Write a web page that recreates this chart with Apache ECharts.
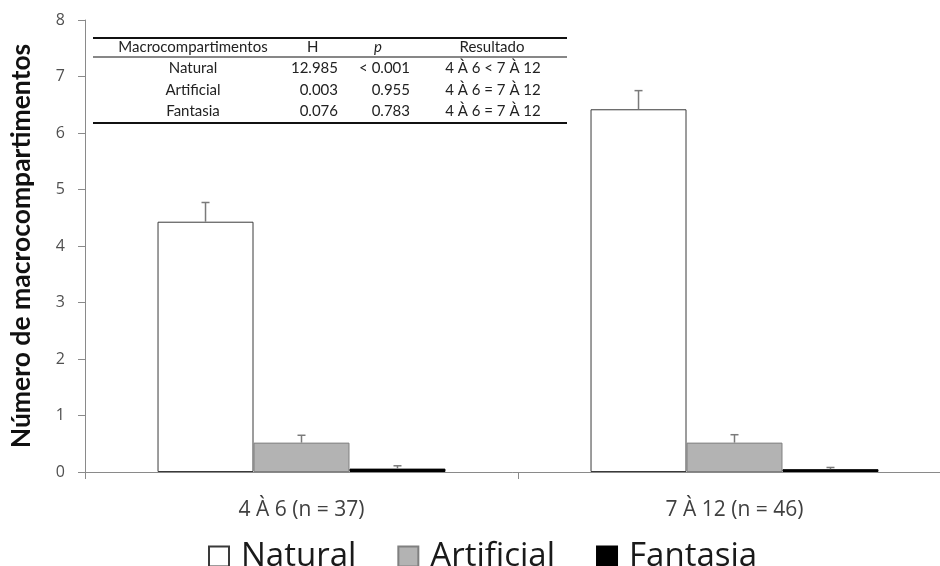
<!DOCTYPE html>
<html lang="pt">
<head>
  <meta charset="UTF-8">
  <title>Macrocompartimentos</title>
  <style type="text/css">
    html, body { margin: 0; padding: 0; background: #fff; }
    #main { width: 940px; height: 566px; }
  </style>
</head>
<body>
  <div id="main"></div>
</body>
<script type="text/javascript" src="https://cdn.jsdelivr.net/npm/echarts@6/dist/echarts.min.js"></script>
<script type="text/javascript">
  // dados
  var categories = ['4 À 6 (n = 37)', '7 À 12 (n = 46)'];
  var natural = [4.43, 6.42];
  var naturalErr = [4.77, 6.75];
  var artificial = [0.52, 0.52];
  var artificialErr = [0.65, 0.66];
  var fantasia = [0.06, 0.05];
  var fantasiaErr = [0.11, 0.08];
  var yTicks = [0, 8, 1]; // min, max, intervalo

  // tabela
  var tableHeader = ['Macrocompartimentos', 'H', 'p', 'Resultado'];
  var tableNames = ['Natural', 'Artificial', 'Fantasia'];
  var tableH = ['12.985', '0.003', '0.076'];
  var tableP = ['< 0.001', '0.955', '0.783'];
  var tableRes = ['4 À 6 < 7 À 12', '4 À 6 = 7 À 12', '4 À 6 = 7 À 12'];

  var font = 'Lato, "Open Sans", sans-serif';
  var uiFont = '"Open Sans", "Noto Sans", sans-serif';
  var gap = 0.335;

  function errBars(slot) {
    return function (params, api) {
      var x = api.value(0);
      var top = api.coord([x, api.value(1)]);
      var base = api.coord([x, api.value(2)]);
      var band = api.size([1, 0])[0];
      var bw = band * (1 - gap) / 3;
      var cx = top[0] + (slot - 1) * bw;
      var st = { stroke: '#7a7a7a', lineWidth: 1.5 };
      return {
        type: 'group',
        children: [
          { type: 'line', shape: { x1: cx, y1: base[1], x2: cx, y2: top[1] }, style: st },
          { type: 'line', shape: { x1: cx - 4, y1: top[1], x2: cx + 4, y2: top[1] }, style: st }
        ]
      };
    };
  }

  function errData(vals, errs) {
    var out = [];
    for (var i = 0; i < vals.length; i++) out.push([i, errs[i], vals[i]]);
    return out;
  }

  // tabela como graphic
  var graphics = [];
  var rowY = [68, 90, 111];
  graphics.push({ type: 'line', shape: { x1: 93, y1: 38, x2: 567, y2: 38 }, style: { stroke: '#111', lineWidth: 2 } });
  graphics.push({ type: 'line', shape: { x1: 93, y1: 57, x2: 567, y2: 57 }, style: { stroke: '#111', lineWidth: 1.2 } });
  graphics.push({ type: 'line', shape: { x1: 93, y1: 123, x2: 567, y2: 123 }, style: { stroke: '#111', lineWidth: 2 } });
  function txt(s, x, y, align, italic) {
    return {
      type: 'text', x: x, y: y,
      style: {
        text: s, fill: '#222', font: (italic ? 'italic ' : '') + '15px ' + font,
        textAlign: align, textVerticalAlign: 'middle'
      }
    };
  }
  graphics.push(txt(tableHeader[0], 193, 47, 'center'));
  graphics.push(txt(tableHeader[1], 307, 47, 'left'));
  graphics.push(txt(tableHeader[2], 374, 47, 'left', true));
  graphics.push(txt(tableHeader[3], 492, 47, 'center'));
  for (var i = 0; i < tableNames.length; i++) {
    graphics.push(txt(tableNames[i], 193, rowY[i], 'center'));
    graphics.push(txt(tableH[i], 338, rowY[i], 'right'));
    graphics.push(txt(tableP[i], 410, rowY[i], 'right'));
    graphics.push(txt(tableRes[i], 493, rowY[i], 'center'));
  }

  var myChart = echarts.init(document.getElementById('main'));
  var option = {
    backgroundColor: '#fff',
    animation: false,
    grid: { left: 85, right: -11, top: 20, bottom: 94, outerBoundsMode: 'none' },
    legend: {
      data: ['Natural', 'Artificial', 'Fantasia'],
      left: 203, top: 535,
      icon: 'rect', itemWidth: 20, itemHeight: 20, itemGap: 41,
      textStyle: { fontFamily: uiFont, fontSize: 33, color: '#1a1a1a', padding: [0, 0, 0, 7] }
    },
    xAxis: {
      type: 'category',
      data: categories,
      axisLine: { lineStyle: { color: '#8a8a8a', width: 1 } },
      axisTick: { show: true, length: 7, lineStyle: { color: '#8a8a8a' } },
      axisLabel: { margin: 28, fontFamily: uiFont, fontSize: 21, color: '#404040' },
      splitLine: { show: false }
    },
    yAxis: {
      type: 'value',
      min: yTicks[0], max: yTicks[1], interval: yTicks[2],
      name: 'Número de macrocompartimentos',
      nameLocation: 'middle', nameRotate: 90, nameGap: 50,
      nameTextStyle: { fontFamily: font, fontSize: 26.5, fontWeight: 'bold', color: '#111' },
      axisLine: { show: true, lineStyle: { color: '#8a8a8a', width: 1 } },
      axisTick: { show: true, length: 7, lineStyle: { color: '#8a8a8a' } },
      axisLabel: { margin: 20, fontFamily: uiFont, fontSize: 16, color: '#505050' },
      splitLine: { show: false }
    },
    series: [{
      name: 'Natural', type: 'bar', data: natural,
      barGap: 0, barCategoryGap: (gap * 100) + '%',
      itemStyle: { color: '#ffffff', borderColor: '#3a3a3a', borderWidth: 1 }
    }, {
      name: 'Artificial', type: 'bar', data: artificial,
      itemStyle: { color: '#b3b3b3', borderColor: '#808080', borderWidth: 1 }
    }, {
      name: 'Fantasia', type: 'bar', data: fantasia,
      itemStyle: { color: '#000000', borderColor: '#000000', borderWidth: 1 }
    }, {
      type: 'custom', renderItem: errBars(0), data: errData(natural, naturalErr), z: 5
    }, {
      type: 'custom', renderItem: errBars(1), data: errData(artificial, artificialErr), z: 5
    }, {
      type: 'custom', renderItem: errBars(2), data: errData(fantasia, fantasiaErr), z: 5
    }],
    graphic: graphics
  };
  myChart.setOption(option);
</script>
</html>
